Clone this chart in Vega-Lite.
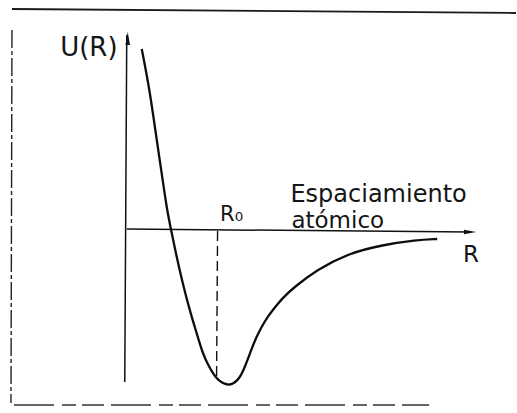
{
  "$schema": "https://vega.github.io/schema/vega-lite/v6.json",
  "width": 517,
  "height": 413,
  "padding": 0,
  "autosize": {"type": "fit", "contains": "padding"},
  "background": "#ffffff",
  "config": {"view": {"stroke": null}},
  "datasets": {
    "potential": [
      {"r": 0.12, "u": 1.81}, {"r": 0.20, "u": 1.40}, {"r": 0.27, "u": 0.90},
      {"r": 0.32, "u": 0.57}, {"r": 0.37, "u": 0.22}, {"r": 0.41, "u": 0.02},
      {"r": 0.47, "u": -0.27}, {"r": 0.53, "u": -0.53}, {"r": 0.60, "u": -0.80},
      {"r": 0.67, "u": -1.03}, {"r": 0.73, "u": -1.23}, {"r": 0.78, "u": -1.34},
      {"r": 0.82, "u": -1.41}, {"r": 0.86, "u": -1.47}, {"r": 0.90, "u": -1.51},
      {"r": 0.95, "u": -1.54}, {"r": 1.00, "u": -1.55}, {"r": 1.05, "u": -1.53},
      {"r": 1.10, "u": -1.48}, {"r": 1.14, "u": -1.40}, {"r": 1.18, "u": -1.30},
      {"r": 1.22, "u": -1.19}, {"r": 1.27, "u": -1.07}, {"r": 1.32, "u": -0.97},
      {"r": 1.38, "u": -0.87}, {"r": 1.45, "u": -0.78}, {"r": 1.53, "u": -0.68},
      {"r": 1.65, "u": -0.57}, {"r": 1.87, "u": -0.40}, {"r": 2.20, "u": -0.23},
      {"r": 2.53, "u": -0.15}, {"r": 2.87, "u": -0.10}, {"r": 3.08, "u": -0.09}
    ],
    "axes": [
      {"name": "U axis", "r": -0.03, "u": 1.95, "r2": -0.05, "u2": -1.52},
      {"name": "R axis", "r": -0.03, "u": 0.01, "r2": 3.41, "u2": -0.02}
    ],
    "frameTop": [
      {"name": "top", "r": -1.18, "u": 2.21, "r2": 3.87, "u2": 2.17}
    ],
    "frameLeft": [
      {"name": "left", "r": -1.18, "u": 2.00, "r2": -1.19, "u2": -1.73}
    ],
    "frameBottom": [
      {"name": "bottom", "r": -1.16, "u": -1.75, "r2": 3.0, "u2": -1.75}
    ],
    "equilibrium": [
      {"name": "R0", "r": 0.88, "u": -0.01, "r2": 0.87, "u2": -1.47}
    ]
  },
  "encoding": {
    "x": {"field": "r", "type": "quantitative", "axis": null,
          "scale": {"domain": [-1.30, 3.87], "nice": false, "zero": false}},
    "y": {"field": "u", "type": "quantitative", "axis": null,
          "scale": {"domain": [-1.83, 2.30], "nice": false, "zero": false}}
  },
  "layer": [
    {
      "data": {"name": "frameTop"},
      "mark": {"type": "rule", "stroke": "#1a1a1a", "strokeWidth": 1.8},
      "encoding": {"x2": {"field": "r2"}, "y2": {"field": "u2"}}
    },
    {
      "data": {"name": "frameLeft"},
      "mark": {"type": "rule", "stroke": "#222222", "strokeWidth": 1.4, "strokeDash": [18, 3, 4, 3]},
      "encoding": {"x2": {"field": "r2"}, "y2": {"field": "u2"}}
    },
    {
      "data": {"name": "frameBottom"},
      "mark": {"type": "rule", "stroke": "#333333", "strokeWidth": 1.6, "strokeDash": [40, 8, 14, 6, 22, 7]},
      "encoding": {"x2": {"field": "r2"}, "y2": {"field": "u2"}}
    },
    {
      "data": {"name": "axes"},
      "mark": {"type": "rule", "stroke": "#111111", "strokeWidth": 1.5},
      "encoding": {"x2": {"field": "r2"}, "y2": {"field": "u2"}}
    },
    {
      "data": {"name": "equilibrium"},
      "mark": {"type": "rule", "stroke": "#111111", "strokeWidth": 1.4, "strokeDash": [10, 5]},
      "encoding": {"x2": {"field": "r2"}, "y2": {"field": "u2"}}
    },
    {
      "data": {"values": [{"r": -0.02, "u": 1.915}]},
      "mark": {"type": "point", "filled": true, "color": "#111111", "opacity": 1,
               "shape": "M0,-1L0.35,1L-0.35,1Z", "size": 170}
    },
    {
      "data": {"values": [{"r": 3.41, "u": -0.02}]},
      "mark": {"type": "point", "filled": true, "color": "#111111", "opacity": 1,
               "shape": "M1,0L-1,0.35L-1,-0.35Z", "size": 150}
    },
    {
      "data": {"name": "potential"},
      "mark": {"type": "line", "stroke": "#0d0d0d", "strokeWidth": 2.3, "interpolate": "basis"}
    },
    {
      "data": {"values": [{"label": "U(R)", "r": -0.41, "u": 1.74}]},
      "mark": {"type": "text", "font": "DejaVu Sans", "fontSize": 26, "align": "center",
               "baseline": "alphabetic", "color": "#151515"},
      "encoding": {"text": {"field": "label"}}
    },
    {
      "data": {"values": [{"label": "Espaciamiento", "r": 1.61, "u": 0.285}]},
      "mark": {"type": "text", "font": "DejaVu Sans", "fontSize": 24, "align": "left",
               "baseline": "alphabetic", "color": "#151515"},
      "encoding": {"text": {"field": "label"}}
    },
    {
      "data": {"values": [{"label": "atómico", "r": 1.62, "u": 0.02}]},
      "mark": {"type": "text", "font": "DejaVu Sans", "fontSize": 23, "align": "left",
               "baseline": "alphabetic", "color": "#151515"},
      "encoding": {"text": {"field": "label"}}
    },
    {
      "data": {"values": [{"label": "R₀", "r": 1.02, "u": 0.09}]},
      "mark": {"type": "text", "font": "DejaVu Sans", "fontSize": 21, "align": "center",
               "baseline": "alphabetic", "color": "#151515"},
      "encoding": {"text": {"field": "label"}}
    },
    {
      "data": {"values": [{"label": "R", "r": 3.42, "u": -0.32}]},
      "mark": {"type": "text", "font": "DejaVu Sans", "fontSize": 23, "align": "center",
               "baseline": "alphabetic", "color": "#151515"},
      "encoding": {"text": {"field": "label"}}
    }
  ]
}
